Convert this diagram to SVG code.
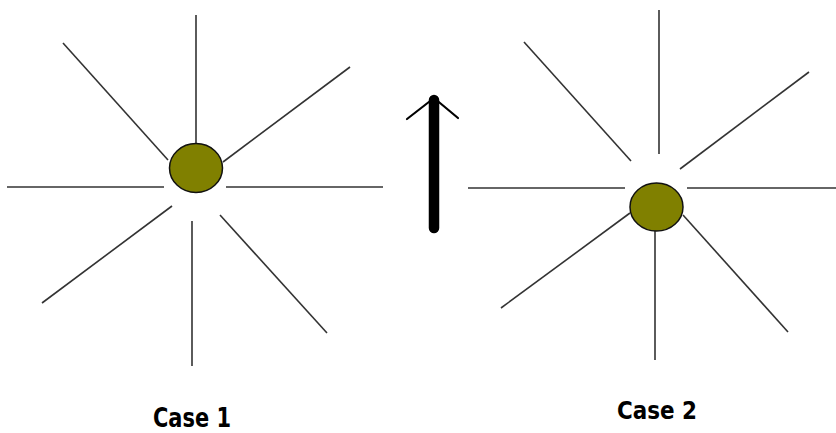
<svg xmlns="http://www.w3.org/2000/svg" width="836" height="433" viewBox="0 0 836 433">
<style>
.ray{stroke:#333;stroke-width:1.6;fill:none}
.dot{fill:#808000;stroke:#111;stroke-width:1.5}
.lbl{font-family:"DejaVu Sans Condensed","DejaVu Sans",sans-serif;font-weight:bold;fill:#000}
</style>
<rect width="836" height="433" fill="#fff"/>
<g id="connectors">
<g id="case1-rays">
<line class="ray" x1="196" y1="15" x2="196" y2="144"/>
<line class="ray" x1="63" y1="43" x2="168" y2="160"/>
<line class="ray" x1="223" y1="162" x2="350" y2="67"/>
<line class="ray" x1="7" y1="187" x2="164" y2="187"/>
<line class="ray" x1="226" y1="187" x2="383" y2="187"/>
<line class="ray" x1="172" y1="206" x2="42" y2="303"/>
<line class="ray" x1="192" y1="221" x2="192" y2="366"/>
<line class="ray" x1="220" y1="215" x2="327" y2="333"/>
</g>
<g id="case2-rays">
<line class="ray" x1="659" y1="10" x2="659" y2="154"/>
<line class="ray" x1="524" y1="42" x2="631" y2="161"/>
<line class="ray" x1="680" y1="169" x2="809" y2="72"/>
<line class="ray" x1="468" y1="188" x2="625" y2="188"/>
<line class="ray" x1="687" y1="188" x2="836" y2="188"/>
<line class="ray" x1="630" y1="213" x2="501" y2="308"/>
<line class="ray" x1="655" y1="231" x2="655" y2="360"/>
<line class="ray" x1="683" y1="215" x2="788" y2="332"/>
</g>
<g id="arrow">
<line x1="434" y1="100" x2="434" y2="228" stroke="#000" stroke-width="10.5" stroke-linecap="round"/>
<polyline points="407,119 434,98 458,118" fill="none" stroke="#000" stroke-width="2.2" stroke-linecap="round" stroke-linejoin="round"/>
</g>
</g>
<g id="node-case1">
<ellipse class="dot" cx="196" cy="168" rx="26.5" ry="24.5"/>
<text class="lbl" x="153" y="427" font-size="26" textLength="78" lengthAdjust="spacingAndGlyphs">Case 1</text>
</g>
<g id="node-case2">
<ellipse class="dot" cx="656.5" cy="207" rx="26.5" ry="24"/>
<text class="lbl" x="617" y="419" font-size="24" textLength="80" lengthAdjust="spacingAndGlyphs">Case 2</text>
</g>
</svg>
